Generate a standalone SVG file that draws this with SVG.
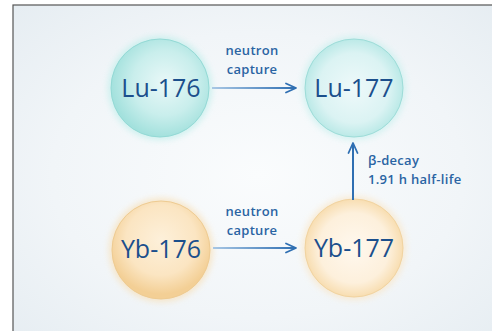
<svg xmlns="http://www.w3.org/2000/svg" width="492" height="331" viewBox="0 0 492 331">
<defs>
<radialGradient id="bg" cx="0.5" cy="0.5" r="0.7">
<stop offset="0" stop-color="#fafcfd"/>
<stop offset="0.6" stop-color="#f1f5f8"/>
<stop offset="1" stop-color="#e6edf2"/>
</radialGradient>
<radialGradient id="teal" cx="0.55" cy="0.45" r="0.55">
<stop offset="0" stop-color="#e9f8f8"/>
<stop offset="0.6" stop-color="#c9eeec"/>
<stop offset="1" stop-color="#a3e1dd"/>
</radialGradient>
<radialGradient id="teal2" cx="0.5" cy="0.5" r="0.55">
<stop offset="0" stop-color="#eef9fa"/>
<stop offset="0.65" stop-color="#dbf3f3"/>
<stop offset="1" stop-color="#b0e6e3"/>
</radialGradient>
<radialGradient id="amber" cx="0.5" cy="0.4" r="0.55">
<stop offset="0" stop-color="#fdf0da"/>
<stop offset="0.65" stop-color="#fbe5c2"/>
<stop offset="1" stop-color="#f3cf95"/>
</radialGradient>
<radialGradient id="amber2" cx="0.5" cy="0.5" r="0.55">
<stop offset="0" stop-color="#fff8ee"/>
<stop offset="0.65" stop-color="#fdf0dc"/>
<stop offset="1" stop-color="#f6d7a2"/>
</radialGradient>
<linearGradient id="lineg" gradientUnits="userSpaceOnUse" x1="212" y1="0" x2="296" y2="0">
<stop offset="0" stop-color="#a9c8e5"/>
<stop offset="1" stop-color="#2f6fb2"/>
</linearGradient>
<filter id="glow" x="-30%" y="-30%" width="160%" height="160%">
<feGaussianBlur stdDeviation="3"/>
</filter>
<marker id="ah" viewBox="0 0 12 12" refX="11" refY="6" markerWidth="12" markerHeight="12" markerUnits="userSpaceOnUse" orient="auto">
<path d="M1,1.5 L11,6 L1,10.5" fill="none" stroke="#2f6fb2" stroke-width="1.8" stroke-linecap="round" stroke-linejoin="round"/>
</marker>
<style>
.node text{font-family:"Open Sans",Lato,sans-serif;font-size:25px;font-weight:500;fill:#1b4f8c;text-anchor:middle}
.lbl{font-family:"Open Sans",Lato,sans-serif;font-size:13px;letter-spacing:0.3px;fill:#2a64a3;font-weight:600}
.conn line{stroke-width:2;fill:none}
</style>
</defs>
<rect x="0" y="0" width="492" height="331" fill="#ffffff"/>
<rect x="13" y="5" width="490" height="340" fill="url(#bg)" stroke="#555555" stroke-width="1.2"/>
<g id="lu176" class="node">
<circle cx="160" cy="88" r="52" fill="#bdeeea" filter="url(#glow)" opacity="0.7"/>
<circle cx="160" cy="88" r="49" fill="url(#teal)" stroke="#93d9d5" stroke-width="1"/>
<text x="161" y="97">Lu-176</text>
</g>
<g id="lu177" class="node">
<circle cx="354" cy="88" r="52" fill="#c8f0ee" filter="url(#glow)" opacity="0.7"/>
<circle cx="354" cy="88" r="49" fill="url(#teal2)" stroke="#9ddcd8" stroke-width="1"/>
<text x="354" y="97">Lu-177</text>
</g>
<g id="yb176" class="node">
<circle cx="161" cy="250" r="52" fill="#f8dfb5" filter="url(#glow)" opacity="0.7"/>
<circle cx="161" cy="250" r="49" fill="url(#amber)" stroke="#eecb92" stroke-width="1"/>
<text x="161" y="258">Yb-176</text>
</g>
<g id="yb177" class="node">
<circle cx="354" cy="248" r="52" fill="#fae6c6" filter="url(#glow)" opacity="0.7"/>
<circle cx="354" cy="248" r="49" fill="url(#amber2)" stroke="#f1d3a0" stroke-width="1"/>
<text x="354" y="257">Yb-177</text>
</g>
<g id="connectors" class="conn">
<line x1="212" y1="88" x2="296" y2="88" stroke="url(#lineg)" marker-end="url(#ah)"/>
<line x1="213" y1="248" x2="296" y2="248" stroke="url(#lineg)" marker-end="url(#ah)"/>
<line x1="353" y1="200" x2="353" y2="143" stroke="#2f6fb2" marker-end="url(#ah)"/>
</g>
<g id="labels">
<text class="lbl" x="252" y="55" text-anchor="middle">neutron</text>
<text class="lbl" x="252" y="73.5" text-anchor="middle">capture</text>
<text class="lbl" x="252" y="216" text-anchor="middle">neutron</text>
<text class="lbl" x="252" y="234.5" text-anchor="middle">capture</text>
<text class="lbl" x="368" y="165">β-decay</text>
<text class="lbl" x="368" y="183.5">1.91 h half-life</text>
</g>
</svg>
